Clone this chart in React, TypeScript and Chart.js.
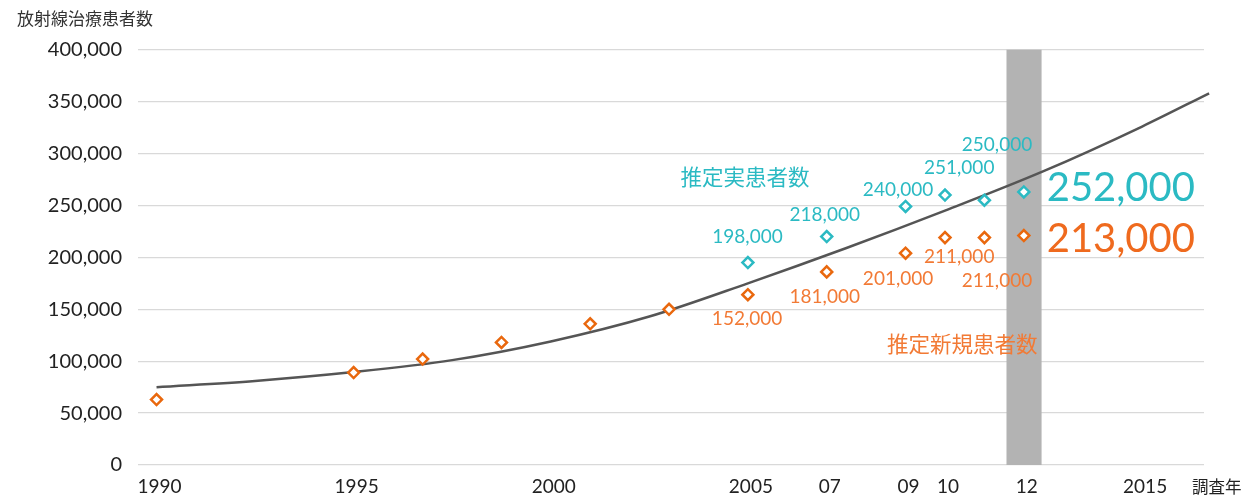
import React, { useEffect, useRef } from "react";
import { Chart, registerables } from "chart.js";

Chart.register(...registerables);

// ---- Data ----
const newPatientYears = [1990, 1995, 1996.75, 1998.75, 2001, 2003, 2005, 2007, 2009, 2010, 2011, 2012];
const newPatientValues = [63000, 89000, 102000, 118000, 136000, 150000, 164000, 186000, 204000, 219000, 219000, 221000];

const actualPatientYears = [2005, 2007, 2009, 2010, 2011, 2012];
const actualPatientValues = [195000, 220000, 249000, 260000, 255000, 263000];

const trendYears = [1990, 1992.5, 1995, 1997.5, 2000, 2002.5, 2005, 2007.5, 2010, 2012.5, 2015, 2016.7];
const trendValues = [75000, 81000, 89500, 101000, 119000, 143000, 175000, 209000, 245000, 283000, 326000, 358000];

const xTickYears = [1990, 1995, 2000, 2005, 2007, 2009, 2010, 2012, 2015];
const xTickLabels = ["1990", "1995", "2000", "2005", "07", "09", "10", "12", "2015"];

const highlightYear = 2012;

const yAxisTitle = "放射線治療患者数";
const xAxisTitle = "調査年";

const actualLabelTexts = ["198,000", "218,000", "240,000", "251,000", "250,000"];
const newLabelTexts = ["152,000", "181,000", "201,000", "211,000", "211,000"];
const latestActualText = "252,000";
const latestNewText = "213,000";
const actualSeriesName = "推定実患者数";
const newSeriesName = "推定新規患者数";

// ---- Styles / label placement (data coordinates) ----
const CYAN = "#2BBAC3";
const ORANGE = "#E9680E";
const ORANGE_TEXT = "#F27A35";
const NUM_FONT = "Lato, 'Noto Sans CJK JP', sans-serif";
const CJK_FONT = "'Noto Sans CJK JP', sans-serif";

const actualLabelPos = [
  [2004.99, 219800],
  [2006.95, 240700],
  [2008.81, 265400],
  [2010.36, 286200],
  [2011.32, 308000],
];
const newLabelPos = [
  [2004.98, 141200],
  [2006.95, 162000],
  [2008.81, 178800],
  [2010.36, 200000],
  [2011.32, 177100],
];
const latestActualPos = [2014.46, 266400];
const latestNewPos = [2014.46, 217600];
const actualNamePos = [2004.93, 277300];
const newNamePos = [2010.44, 116500];

const annotationPlugin = {
  id: "annotations",
  beforeDatasetsDraw(chart: any) {
    const { ctx, chartArea, scales } = chart;
    const x = scales.x;
    const l = x.getPixelForValue(highlightYear - 0.44);
    const r = x.getPixelForValue(highlightYear + 0.45);
    ctx.save();
    ctx.fillStyle = "#B3B3B3";
    ctx.fillRect(l, chartArea.top, r - l, chartArea.bottom - chartArea.top);
    ctx.restore();
  },
  afterDatasetsDraw(chart: any) {
    const { ctx, chartArea, scales } = chart;
    const x = scales.x;
    const y = scales.y;
    const put = (text: string, pos: number[], color: string, font: string) => {
      ctx.fillStyle = color;
      ctx.font = font;
      ctx.fillText(text, x.getPixelForValue(pos[0]), y.getPixelForValue(pos[1]));
    };
    ctx.save();
    ctx.textAlign = "center";
    ctx.textBaseline = "middle";
    actualLabelTexts.forEach((t, i) => put(t, actualLabelPos[i], CYAN, `19px ${NUM_FONT}`));
    newLabelTexts.forEach((t, i) => put(t, newLabelPos[i], ORANGE_TEXT, `19px ${NUM_FONT}`));
    put(latestActualText, latestActualPos, CYAN, `40px ${NUM_FONT}`);
    put(latestNewText, latestNewPos, "#EF6A1E", `40px ${NUM_FONT}`);
    put(actualSeriesName, actualNamePos, CYAN, `21.5px ${CJK_FONT}`);
    put(newSeriesName, newNamePos, ORANGE_TEXT, `21.5px ${CJK_FONT}`);
    // x-axis unit label
    ctx.textAlign = "left";
    ctx.fillStyle = "#222";
    ctx.font = `16.5px ${CJK_FONT}`;
    ctx.fillText(xAxisTitle, chartArea.right - 12, chartArea.bottom + 22);
    ctx.restore();
  },
};

export default function App() {
  const canvasRef = useRef<HTMLCanvasElement | null>(null);

  useEffect(() => {
    if (!canvasRef.current) return;
    const toPoints = (xs: number[], ys: number[]) => xs.map((v, i) => ({ x: v, y: ys[i] }));
    const chart = new Chart(canvasRef.current, {
      type: "line",
      data: {
        datasets: [
          {
            label: "trend",
            data: toPoints(trendYears, trendValues),
            borderColor: "#555555",
            borderWidth: 2.5,
            pointRadius: 0,
            cubicInterpolationMode: "monotone",
            fill: false,
            clip: false,
            order: 3,
          },
          {
            label: "new",
            data: toPoints(newPatientYears, newPatientValues),
            showLine: false,
            pointStyle: "rectRot",
            pointRadius: 5.5,
            pointBorderWidth: 2.5,
            pointBorderColor: ORANGE,
            pointBackgroundColor: "#ffffff",
            order: 1,
          },
          {
            label: "actual",
            data: toPoints(actualPatientYears, actualPatientValues),
            showLine: false,
            pointStyle: "rectRot",
            pointRadius: 5.5,
            pointBorderWidth: 2.5,
            pointBorderColor: CYAN,
            pointBackgroundColor: "#ffffff",
            order: 2,
          },
        ],
      },
      options: {
        animation: false,
        responsive: true,
        maintainAspectRatio: false,
        events: [],
        layout: { padding: { left: 17, right: 42, top: 0, bottom: 0 } },
        plugins: {
          legend: { display: false },
          tooltip: { enabled: false },
          title: {
            display: true,
            text: yAxisTitle,
            align: "start",
            color: "#333",
            font: { family: CJK_FONT, size: 17, weight: "normal" },
            padding: { top: 8, bottom: 21.3 },
          },
        },
        scales: {
          x: {
            type: "linear",
            min: 1989.53,
            max: 2016.57,
            grid: { display: false, drawTicks: false },
            border: { display: false },
            afterBuildTicks: (scale: any) => {
              scale.ticks = xTickYears.map((v) => ({ value: v }));
            },
            afterFit: (scale: any) => {
              scale.height = 32;
            },
            ticks: {
              autoSkip: false,
              maxRotation: 0,
              padding: 10,
              labelOffset: 3,
              color: "#222",
              font: { family: NUM_FONT, size: 19 },
              callback: (v: any) => {
                const i = xTickYears.indexOf(Number(v));
                return i >= 0 ? xTickLabels[i] : "";
              },
            },
          },
          y: {
            min: 0,
            max: 400000,
            grid: { color: "#D9D9D9", lineWidth: 1.2, drawTicks: false },
            border: { display: false },
            afterFit: (scale: any) => {
              scale.width = 121;
            },
            ticks: {
              stepSize: 50000,
              padding: 16,
              color: "#222",
              font: { family: NUM_FONT, size: 20 },
              callback: (v: any) => Number(v).toLocaleString("en-US"),
            },
          },
        },
      },
      plugins: [annotationPlugin],
    });
    return () => chart.destroy();
  }, []);

  return (
    <div style={{ position: "fixed", left: 0, top: 0, width: 1246, height: 497 }}>
      <canvas ref={canvasRef} />
    </div>
  );
}
